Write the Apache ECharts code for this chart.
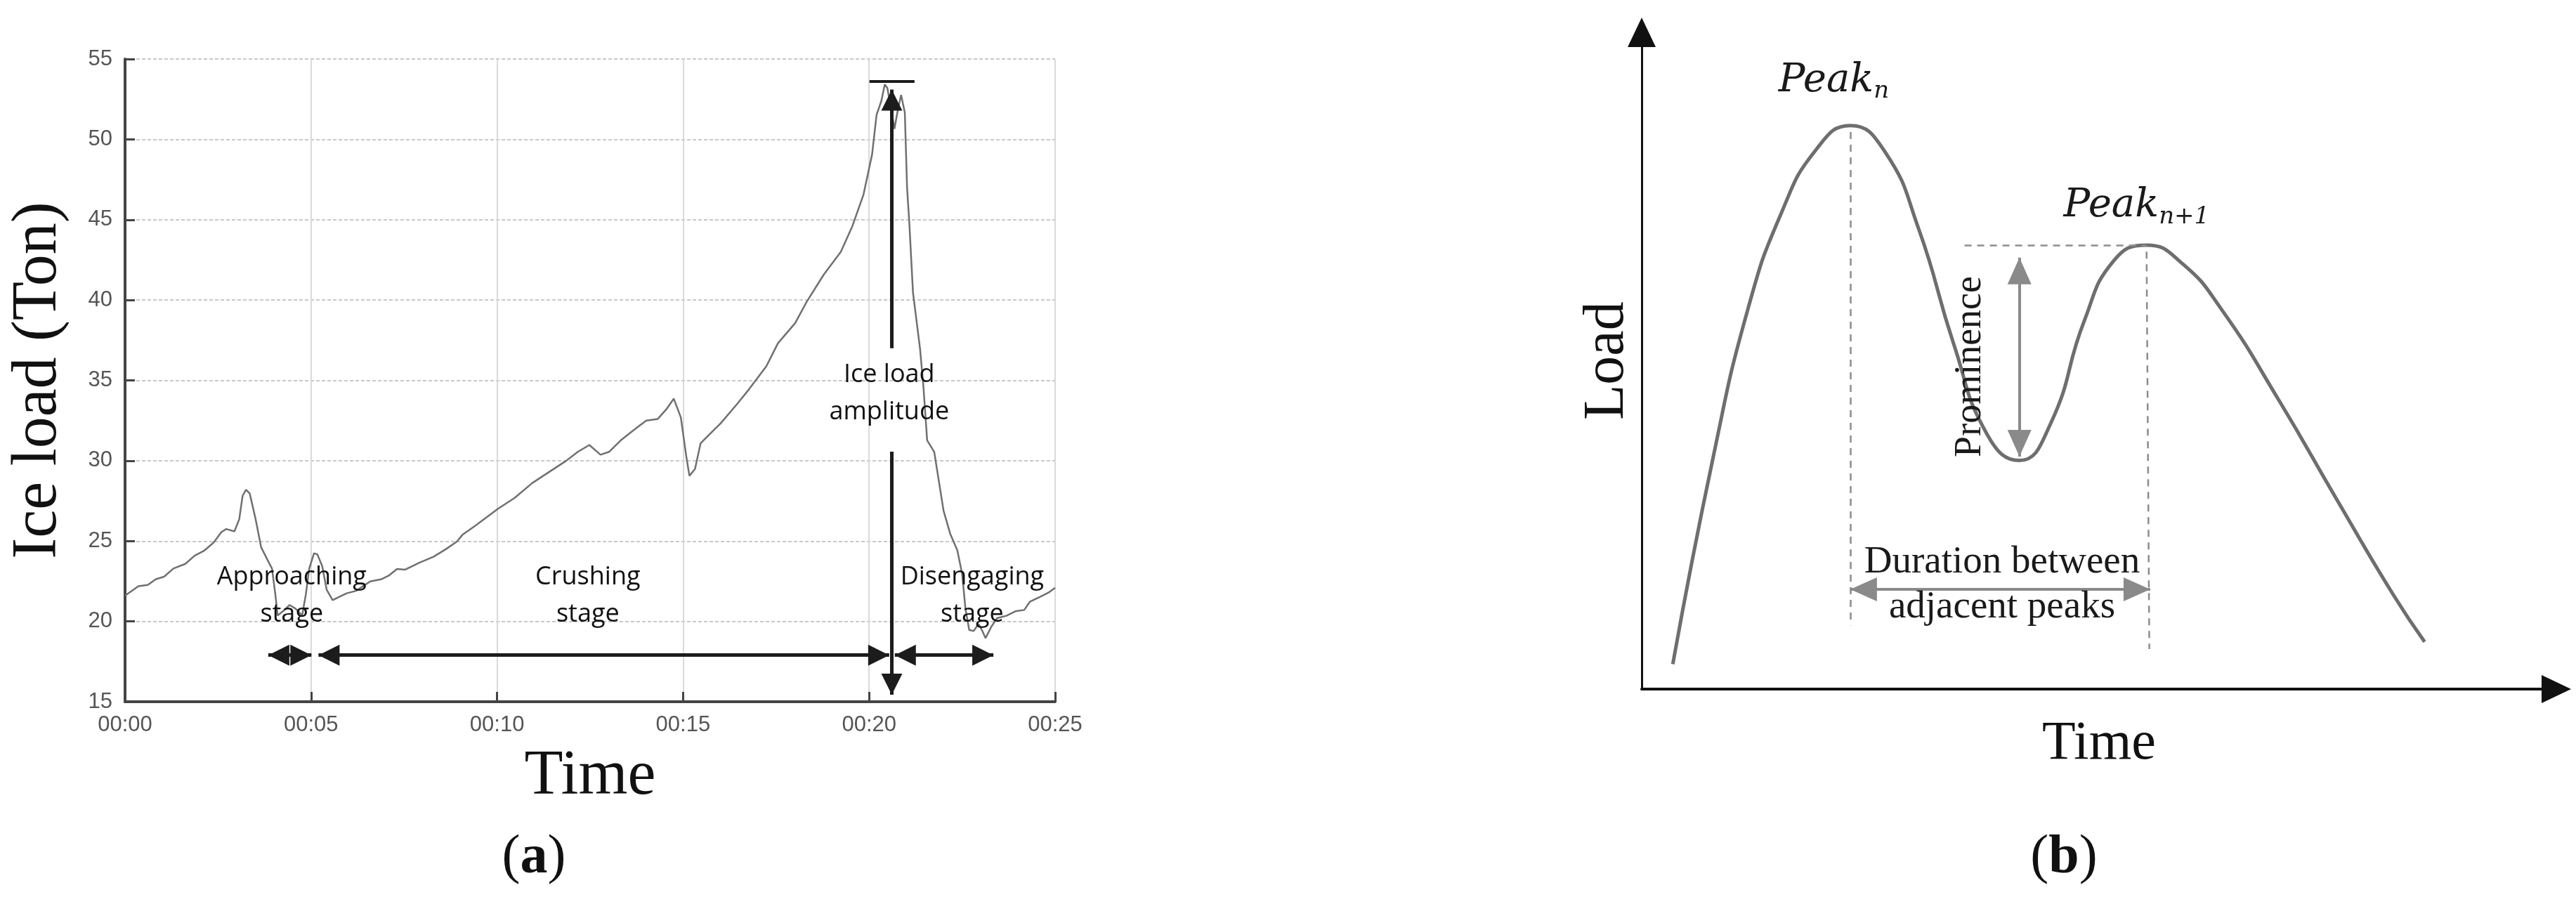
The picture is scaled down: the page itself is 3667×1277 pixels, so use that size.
<!DOCTYPE html>
<html>
<head>
<meta charset="utf-8">
<script src="https://cdn.jsdelivr.net/npm/echarts@6/dist/echarts.min.js"></script>
<style>
html, body { margin: 0; padding: 0; background: #fff; }
#main { width: 3667px; height: 1277px; }
</style>
</head>
<body>
<div id="main"></div>
<script>
// (a) measured ice load, time in seconds (axis shown as 00:ss)
var loadTime = [0, 0.36, 0.61, 0.83, 1.05, 1.30, 1.62, 1.87, 2.12, 2.38,
  2.59, 2.72, 2.94, 3.07, 3.16, 3.25, 3.35, 3.51, 3.66, 3.82,
  3.95, 4.04, 4.10, 4.26, 4.42, 4.58, 4.76, 4.86, 4.95, 5.08,
  5.17, 5.30, 5.42, 5.58, 5.77, 5.96, 6.21, 6.59, 6.90, 7.09,
  7.31, 7.53, 7.91, 8.29, 8.60, 8.92, 9.07, 9.40, 9.71, 10.02,
  10.48, 10.94, 11.40, 11.86, 12.17, 12.48, 12.78, 13.01, 13.32, 13.71,
  14.01, 14.32, 14.55, 14.75, 14.94, 15.09, 15.17, 15.32, 15.47, 15.70,
  16.01, 16.47, 16.78, 17.24, 17.55, 18.01, 18.32, 18.78, 19.24, 19.55,
  19.85, 20.08, 20.20, 20.33, 20.42, 20.49, 20.60, 20.68, 20.77, 20.86,
  20.96, 21.02, 21.08, 21.18, 21.37, 21.46, 21.56, 21.75, 21.87, 22.00,
  22.18, 22.37, 22.50, 22.59, 22.69, 22.81, 22.94, 23.03, 23.13, 23.29,
  23.44, 23.69, 23.95, 24.17, 24.32, 24.58, 24.83, 25.0];
var loadTon = [21.6, 22.19, 22.27, 22.63, 22.78, 23.29, 23.58, 24.09, 24.39, 24.9,
  25.56, 25.75, 25.6, 26.36, 27.82, 28.19, 27.97, 26.36, 24.6, 23.87,
  23.29, 21.68, 20.37, 20.66, 21.02, 20.8, 20.37, 21.68, 23.29, 24.24,
  24.17, 23.44, 21.97, 21.32, 21.54, 21.75, 21.9, 22.49, 22.63, 22.85,
  23.26, 23.22, 23.65, 24.02, 24.46, 24.97, 25.39, 25.93, 26.46, 27.0,
  27.7, 28.6, 29.3, 30.0, 30.55, 30.98, 30.37, 30.55, 31.26, 31.97,
  32.5, 32.6, 33.2, 33.86, 32.69, 30.2, 29.06, 29.48, 31.08, 31.62,
  32.33, 33.58, 34.47, 35.89, 37.31, 38.56, 39.88, 41.58, 43.0, 44.6,
  46.57, 49.06, 51.52, 52.4, 53.42, 53.2, 51.8, 50.65, 51.8, 52.76,
  51.67, 47.0, 44.82, 40.45, 36.95, 34.6, 31.27, 30.55, 28.8, 26.9,
  25.45, 24.43, 22.97, 20.78, 19.47, 19.4, 19.84, 19.47, 18.96, 19.69,
  20.2, 20.35, 20.64, 20.71, 21.22, 21.51, 21.8, 22.09];

// stage arrows of (a): [start, end] in seconds, drawn at arrowLevel
var stageNames = ['Approaching\nstage', 'Crushing\nstage', 'Disengaging\nstage'];
var stageFrom = [3.85, 5.2, 20.69];
var stageTo = [5.01, 20.54, 23.34];
var stageLabelX = [4.48, 12.44, 22.77];
var arrowLevel = 17.9;
var peakTime = 20.61;          // amplitude arrow
var amplitudeTop = 53.1;
var amplitudeBottom = 15.44;

// (b) schematic load profile (arbitrary units)
var profileX = [3.4, 7.8, 11.6, 15.3, 19.1, 22.8, 26.6, 30.3, 34.1, 37.8, 41.3,
  44.7, 48.4, 51.6, 55.2, 59.1, 63.4, 69.7, 75.9, 82.2, 85.6];
var profileY = [3.8, 35.2, 57.8, 72.6, 82.2, 85.8, 81.8, 70.0, 52.6, 38.7, 34.8,
  40.4, 56.1, 65.2, 67.6, 64.8, 57.8, 43.9, 29.1, 14.3, 7.2];
var peakN = [22.8, 85.8];
var peakN1 = [55.2, 67.6];
var valley = [41.3, 34.8];

var loadData = loadTime.map(function (t, i) { return [t, loadTon[i]]; });
var profileData = profileX.map(function (x, i) { return [x, profileY[i]]; });

var chart = echarts.init(document.getElementById('main'));

var blackArrow = { symbol: 'triangle', symbolSize: [30, 30], symbolOffset: [0, '50%'] };
function arrowEnd(coord, style) {
  return Object.assign({ coord: coord }, style || { symbol: 'none' });
}

var stageLines = [];
for (var i = 0; i < stageFrom.length; i++) {
  stageLines.push([arrowEnd([stageFrom[i], arrowLevel], blackArrow), arrowEnd([stageTo[i], arrowLevel], blackArrow)]);
}
stageLines.push([arrowEnd([peakTime, 37.0]), arrowEnd([peakTime, amplitudeTop], blackArrow)]);
stageLines.push([arrowEnd([peakTime, 30.56]), arrowEnd([peakTime, amplitudeBottom], blackArrow)]);
stageLines.push([{ coord: [20.01, 53.6], symbol: 'none', lineStyle: { width: 4 } }, { coord: [21.22, 53.6], symbol: 'none' }]);

var stageLabels = stageNames.map(function (n, i) {
  return { name: n, coord: [stageLabelX[i], 21.6] };
});
stageLabels.push({ name: 'Ice load\namplitude', coord: [20.54, 34.2] });

var grayArrow = { symbol: 'triangle', symbolSize: [34, 38], symbolOffset: [0, '50%'] };
var dashed = { type: [10, 8], color: '#8c8c8c', width: 2.5 };

var option = {
  backgroundColor: '#fff',
  animation: false,
  grid: [
    { left: 178, top: 84, right: 2165, bottom: 278 },
    { left: 2337, top: 46, right: 28, bottom: 296 }
  ],
  xAxis: [{
    gridIndex: 0, type: 'value', min: 0, max: 25, interval: 5,
    name: 'Time', nameLocation: 'middle', nameGap: 62,
    nameTextStyle: { fontFamily: 'Liberation Serif', fontSize: 90, color: '#111' },
    axisLine: { show: true, lineStyle: { color: '#444', width: 4 } },
    axisTick: { show: true, inside: true, length: 14, lineStyle: { color: '#444', width: 3 } },
    axisLabel: {
      margin: 18, color: '#555', fontFamily: 'Liberation Sans', fontSize: 31,
      formatter: function (v) { return '00:' + (v < 10 ? '0' : '') + v; }
    },
    splitLine: { show: true, lineStyle: { color: '#dadada', width: 2 } }
  }, {
    gridIndex: 1, type: 'value', min: 0, max: 100,
    name: 'Time', nameLocation: 'middle', nameGap: 40,
    nameTextStyle: { fontFamily: 'Liberation Serif', fontSize: 78, color: '#111' },
    axisLine: { show: true, symbol: ['none', 'triangle'], symbolSize: [40, 42], lineStyle: { color: '#111', width: 4 } },
    axisTick: { show: false }, axisLabel: { show: false }, splitLine: { show: false }
  }],
  yAxis: [{
    gridIndex: 0, type: 'value', min: 15, max: 55, interval: 5,
    name: 'Ice load (Ton)', nameLocation: 'middle', nameGap: 78,
    nameTextStyle: { fontFamily: 'Liberation Serif', fontSize: 90, color: '#111' },
    axisLine: { show: true, lineStyle: { color: '#444', width: 4 } },
    axisTick: { show: true, inside: true, length: 14, lineStyle: { color: '#444', width: 3 } },
    axisLabel: { margin: 18, color: '#555', fontFamily: 'Liberation Sans', fontSize: 31 },
    splitLine: { show: true, lineStyle: { color: '#c8c8c8', width: 2, type: [5, 3] } }
  }, {
    gridIndex: 1, type: 'value', min: 0, max: 100,
    name: 'Load', nameLocation: 'middle', nameGap: 8,
    nameTextStyle: { fontFamily: 'Liberation Serif', fontSize: 82, color: '#111' },
    axisLine: { show: true, symbol: ['none', 'triangle'], symbolSize: [40, 42], lineStyle: { color: '#111', width: 3 } },
    axisTick: { show: false }, axisLabel: { show: false }, splitLine: { show: false }
  }],
  series: [{
    type: 'line', xAxisIndex: 0, yAxisIndex: 0, data: loadData,
    showSymbol: false, lineStyle: { color: '#707070', width: 2.5 },
    markLine: {
      silent: true, precision: 4,
      symbol: ['none', 'none'],
      label: { show: false },
      lineStyle: { type: 'solid', color: '#1c1c1c', width: 5 },
      emphasis: { disabled: true },
      data: stageLines
    },
    markPoint: {
      silent: true, symbol: 'circle', symbolSize: 1,
      itemStyle: { color: 'rgba(0,0,0,0)' },
      label: {
        show: true, position: 'inside', formatter: '{b}',
        fontFamily: 'Open Sans', fontSize: 36, lineHeight: 53, color: '#111'
      },
      data: stageLabels
    }
  }, {
    type: 'line', xAxisIndex: 1, yAxisIndex: 1, data: profileData,
    smooth: 0.5, showSymbol: false, lineStyle: { color: '#6e6e6e', width: 5 },
    markLine: {
      silent: true, precision: 4,
      symbol: ['none', 'none'],
      label: { show: false },
      lineStyle: dashed,
      emphasis: { disabled: true },
      data: [
        [{ coord: [peakN[0], peakN[1] - 1] }, { coord: [peakN[0], 9.7] }],
        [{ coord: [peakN1[0], peakN1[1] - 1] }, { coord: [peakN1[0] + 0.3, 6.1] }],
        [{ coord: [35.3, peakN1[1]] }, { coord: [peakN1[0], peakN1[1]] }],
        [Object.assign({ coord: [valley[0], 65.7], lineStyle: { type: 'solid', color: '#8a8a8a', width: 4 } }, grayArrow),
         Object.assign({ coord: [valley[0], 35.4] }, grayArrow)],
        [Object.assign({ coord: [peakN[0], 15.2], lineStyle: { type: 'solid', color: '#8a8a8a', width: 4 } }, grayArrow),
         Object.assign({ coord: [peakN1[0] + 0.4, 15.2] }, grayArrow)]
      ]
    },
    markPoint: {
      silent: true, symbol: 'circle', symbolSize: 1,
      itemStyle: { color: 'rgba(0,0,0,0)' },
      label: { show: true, position: 'inside', color: '#1a1a1a' },
      data: [
        { coord: [21.0, 92.6], label: { formatter: '{p|Peak}{s|n}', rich: {
          p: { fontFamily: 'DejaVu Serif', fontStyle: 'italic', fontSize: 56, color: '#1a1a1a' },
          s: { fontFamily: 'DejaVu Serif', fontStyle: 'italic', fontSize: 34, color: '#1a1a1a', padding: [30, 0, 0, 0] } } } },
        { coord: [54.1, 73.5], label: { formatter: '{p|Peak}{s|n+1}', rich: {
          p: { fontFamily: 'DejaVu Serif', fontStyle: 'italic', fontSize: 56, color: '#1a1a1a' },
          s: { fontFamily: 'DejaVu Serif', fontStyle: 'italic', fontSize: 34, color: '#1a1a1a', padding: [30, 0, 0, 0] } } } },
        { coord: [35.9, 49.1], label: { formatter: 'Prominence', rotate: 90,
          fontFamily: 'Liberation Serif', fontSize: 54 } },
        { coord: [39.4, 15.85], label: { formatter: 'Duration between\nadjacent peaks',
          fontFamily: 'Liberation Serif', fontSize: 55, lineHeight: 64 } }
      ]
    }
  }],
  graphic: [
    { type: 'text', x: 760, y: 1222, style: {
      text: '{n|(}{b|a}{n|)}', align: 'center', verticalAlign: 'middle',
      rich: { n: { fontFamily: 'Liberation Serif', fontSize: 78, fill: '#111' },
              b: { fontFamily: 'Liberation Serif', fontWeight: 'bold', fontSize: 78, fill: '#111' } } } },
    { type: 'text', x: 2938, y: 1222, style: {
      text: '{n|(}{b|b}{n|)}', align: 'center', verticalAlign: 'middle',
      rich: { n: { fontFamily: 'Liberation Serif', fontSize: 78, fill: '#111' },
              b: { fontFamily: 'Liberation Serif', fontWeight: 'bold', fontSize: 78, fill: '#111' } } } }
  ]
};

chart.setOption(option);
window.onresize = function () { chart.resize(); };
</script>
</body>
</html>
